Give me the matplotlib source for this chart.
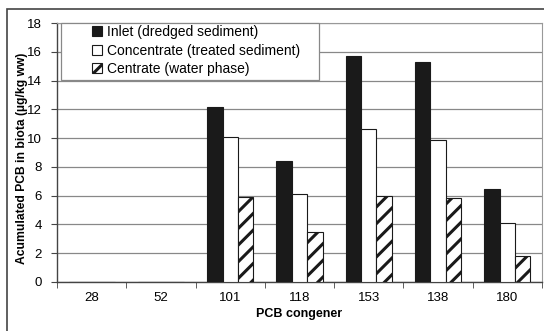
import numpy as np
import matplotlib
matplotlib.use("Agg")
import matplotlib.pyplot as plt
from matplotlib.patches import Rectangle

plt.rcParams['font.family'] = ['Liberation Sans', 'DejaVu Sans']
plt.rcParams['hatch.linewidth'] = 2.2

# datos
congeners = ["28", "52", "101", "118", "153", "138", "180"]
inlet = [0, 0, 12.15, 8.4, 15.7, 15.3, 6.45]
concentrate = [0, 0, 10.1, 6.1, 10.65, 9.85, 4.1]
centrate = [0, 0, 5.9, 3.45, 6.0, 5.85, 1.78]
labels = ["Inlet (dredged sediment)", "Concentrate (treated sediment)", "Centrate (water phase)"]

fig = plt.figure(figsize=(5.44, 3.31), dpi=100)
ax = fig.add_axes([57 / 544, 49 / 331, 485 / 544, 259 / 331])

# marco exterior
fig.patches.append(Rectangle((7 / 544, -0.05), 1.05, 1.05 - 9 / 331, transform=fig.transFigure,
                             fill=False, edgecolor="#444444", linewidth=1.2))

x = np.arange(len(congeners))
w = 1 / 4.5
ax.bar(x - w, inlet, w, color="#1a1a1a", edgecolor="#1a1a1a", linewidth=0.8, label=labels[0], zorder=3)
ax.bar(x, concentrate, w, color="white", edgecolor="#1a1a1a", linewidth=0.8, label=labels[1], zorder=3)
ax.bar(x + w, centrate, w, color="white", edgecolor="#1a1a1a", linewidth=0.8, hatch="//",
       label=labels[2], zorder=3)

ax.set_xlim(-0.5, len(congeners) - 0.5)
ax.set_ylim(0, 18)
ax.set_yticks(np.arange(0, 19, 2))
ax.set_xticks(x)
ax.set_xticklabels(congeners)
ax.set_xticks(np.arange(-0.5, len(congeners), 1), minor=True)
ax.tick_params(axis="x", which="major", length=0, labelsize=9.5, pad=7)
ax.tick_params(axis="x", which="minor", length=4, direction="out", color="#444444")
ax.tick_params(axis="y", length=4, direction="out", labelsize=9.5, color="#444444", pad=7)

ax.yaxis.grid(True, color="#888888", linewidth=0.9, zorder=0)
for side in ["top", "right"]:
    ax.spines[side].set_color("#999999")
for side in ["left", "bottom"]:
    ax.spines[side].set_color("#444444")
    ax.spines[side].set_linewidth(1.0)

ax.set_xlabel("PCB congener", fontsize=9, fontweight="bold", labelpad=3)
ax.set_ylabel("Acumulated PCB in biota (\u00b5g/kg ww)", fontsize=8.7, fontweight="bold")
ax.yaxis.set_label_coords(-29 / 485, 0.479)

# caja de la leyenda
ax.add_patch(Rectangle((4 / 485, 202 / 259), 258 / 485, 57 / 259, transform=ax.transAxes,
                       facecolor="white", edgecolor="#888888", linewidth=0.9, zorder=4, clip_on=False))
leg = ax.legend(loc="upper left", bbox_to_anchor=(35 / 485, 257 / 259), fontsize=10, frameon=False,
                borderpad=0, labelspacing=0.33, handlelength=0.72, handleheight=0.72,
                handletextpad=0.36, borderaxespad=0)
leg.set_zorder(5)

plt.savefig("out.png", dpi=100)
